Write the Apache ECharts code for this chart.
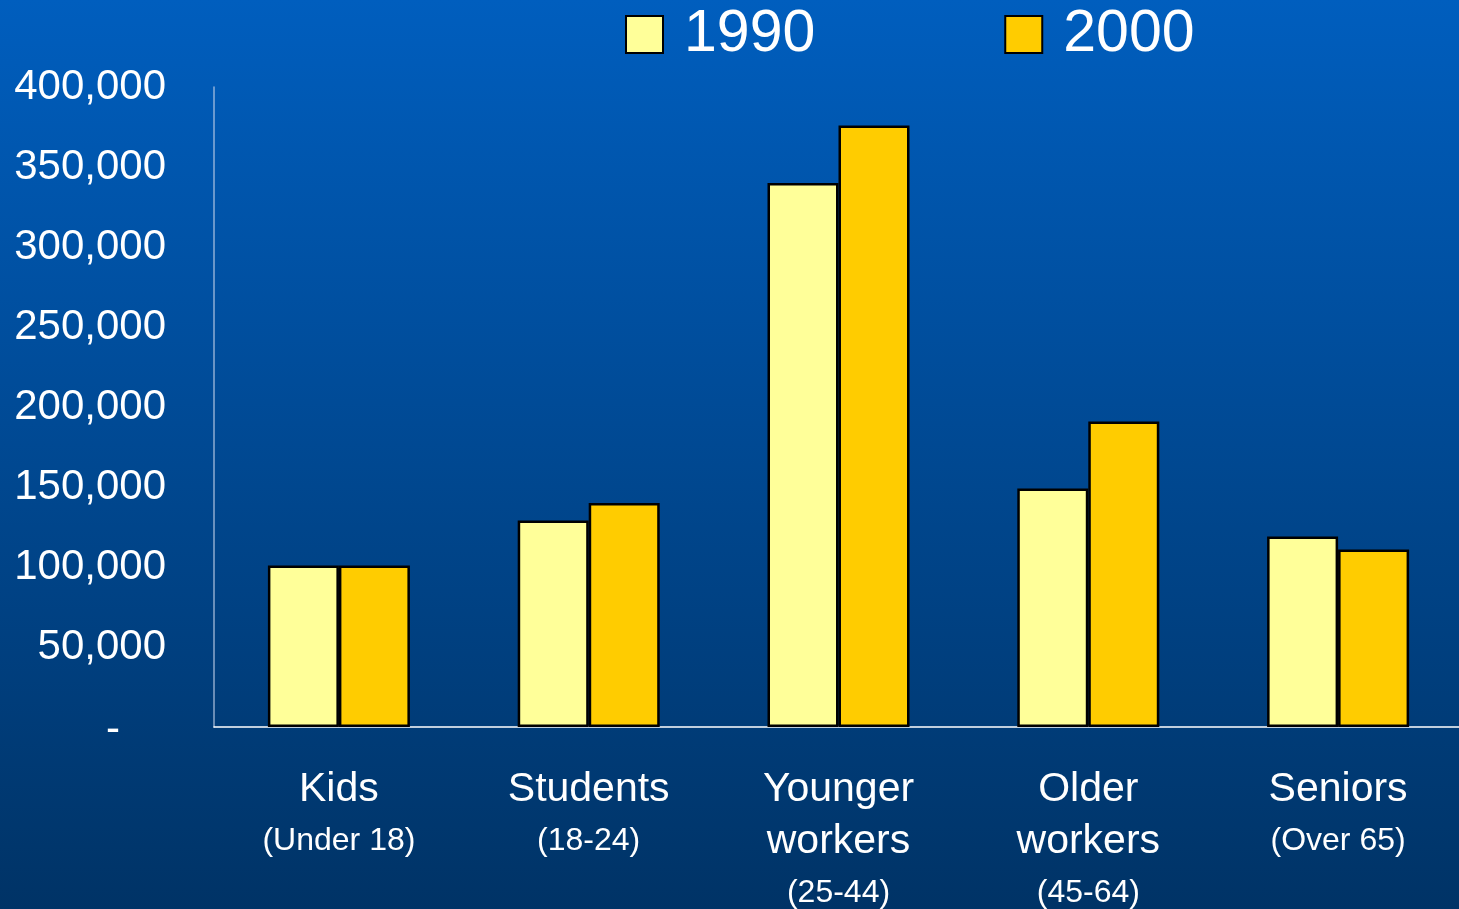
<!DOCTYPE html>
<html>
<head>
<meta charset="utf-8">
<title>Population by age group, 1990 and 2000</title>
<script src="https://cdn.jsdelivr.net/npm/echarts@6/dist/echarts.min.js"></script>
<style>
  html, body { margin: 0; padding: 0; width: 100%; height: 100%; overflow: hidden; }
  #chart { width: 1465px; height: 909px; }
</style>
</head>
<body>
<div id="chart"></div>
<script>
// Age groups: main name and age range shown under it
const groupNames = ['Kids', 'Students', 'Younger\nworkers', 'Older\nworkers', 'Seniors'];
const groupRanges = ['(Under 18)', '(18-24)', '(25-44)', '(45-64)', '(Over 65)'];

// Population per age group
const seriesNames = ['1990', '2000'];
const values1990 = [101000, 129000, 340000, 149000, 119000];
const values2000 = [101000, 140000, 376000, 191000, 111000];

// Value axis ticks
const yTicks = [0, 50000, 100000, 150000, 200000, 250000, 300000, 350000, 400000];

const categories = groupNames.map((n, i) => n + '|' + groupRanges[i]);
const font = '"Liberation Sans", Arial, Helvetica, sans-serif';

const chart = echarts.init(document.getElementById('chart'), null, { renderer: 'canvas' });

chart.setOption({
  backgroundColor: {
    type: 'linear', x: 0, y: 0, x2: 0, y2: 1,
    colorStops: [
      { offset: 0, color: '#005EBE' },
      { offset: 1, color: '#003366' }
    ]
  },
  textStyle: { fontFamily: font },
  animation: false,
  legend: {
    data: seriesNames,
    left: 625,
    top: 5,
    padding: 0,
    itemWidth: 37,
    itemHeight: 37,
    itemGap: 189,
    icon: 'rect',
    textStyle: { color: '#FFFFFF', fontSize: 59, fontFamily: font, padding: [0, 0, 0, 16] }
  },
  grid: { left: 214, right: 2, top: 87, bottom: 182, containLabel: false },
  xAxis: {
    type: 'category',
    data: categories,
    axisLine: { show: true, lineStyle: { color: '#FFFFFF', width: 1.5 } },
    axisTick: { show: false },
    axisLabel: {
      interval: 0,
      margin: 37,
      formatter: function (v) {
        const parts = v.split('|');
        const main = parts[0].split('\n').map(s => '{m|' + s + '}').join('\n');
        return main + '\n{s|' + parts[1] + '}';
      },
      rich: {
        m: { fontSize: 41, color: '#FFFFFF', lineHeight: 52, fontFamily: font },
        s: { fontSize: 32, color: '#FFFFFF', lineHeight: 50, fontFamily: font }
      }
    }
  },
  yAxis: {
    type: 'value',
    min: yTicks[0],
    max: yTicks[yTicks.length - 1],
    interval: yTicks[1] - yTicks[0],
    splitLine: { show: false },
    axisTick: { show: false },
    axisLine: { show: true, lineStyle: { color: 'rgba(190,205,230,0.75)', width: 1.5 } },
    axisLabel: {
      margin: 48,
      color: '#FFFFFF',
      fontSize: 42,
      fontFamily: font,
      formatter: function (v) {
        return v === 0 ? '{z|-}' : v.toLocaleString('en-US');
      },
      rich: {
        z: { fontSize: 42, color: '#FFFFFF', padding: [6, 46, 0, 0], fontFamily: font }
      }
    }
  },
  series: [
    {
      name: seriesNames[0],
      type: 'bar',
      data: values1990,
      barWidth: 71,
      barGap: '0%',
      itemStyle: { color: '#FFFF99', borderColor: '#000000', borderWidth: 2.5 }
    },
    {
      name: seriesNames[1],
      type: 'bar',
      data: values2000,
      barWidth: 71,
      barGap: '0%',
      itemStyle: { color: '#FFCC00', borderColor: '#000000', borderWidth: 2.5 }
    }
  ]
});
</script>
</body>
</html>
